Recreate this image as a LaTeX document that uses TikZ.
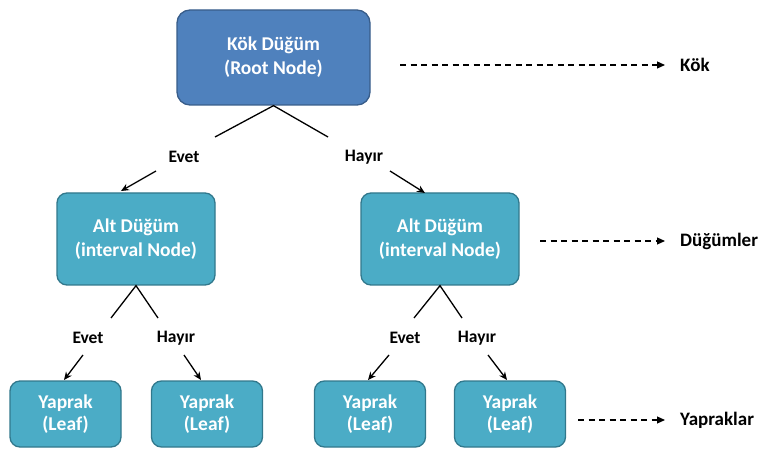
\documentclass[tikz,border=0pt]{standalone}
\usepackage{fontspec}
\setmainfont{Carlito}
\usetikzlibrary{arrows.meta}
\definecolor{rootfill}{RGB}{79,129,189}
\definecolor{rootdraw}{RGB}{56,93,138}
\definecolor{subfill}{RGB}{75,172,198}
\definecolor{subdraw}{RGB}{49,120,140}
\tikzset{
  box/.style={rounded corners=10pt, line width=1.3pt, text=white, font=\bfseries\fontsize{19.5}{24}\selectfont, align=center, inner sep=0pt},
  rootbox/.style={box, fill=rootfill, draw=rootdraw, minimum width=193pt, minimum height=95pt, rounded corners=13pt},
  subbox/.style={box, fill=subfill, draw=subdraw, minimum width=158pt, minimum height=92pt},
  leafbox/.style={box, fill=subfill, draw=subdraw, minimum width=111pt, minimum height=66pt, font=\bfseries\fontsize{19.5}{22}\selectfont},
  lbl/.style={font=\bfseries\fontsize{17.5}{20}\selectfont, text=black, inner sep=1pt},
  side/.style={font=\bfseries\fontsize{19}{22}\selectfont, text=black, inner sep=1pt, anchor=west},
  edge/.style={line width=1.3pt, black},
  arr/.style={line width=1.3pt, black, -{Stealth[length=8pt,width=7pt]}},
  darr/.style={line width=1.2pt, black, dash pattern=on 6pt off 4.5pt, -{Triangle[length=8pt,width=7pt]}, shorten >=14pt}
}
\begin{document}
\begin{tikzpicture}[x=1pt,y=-1pt]
\useasboundingbox (0,0) rectangle (758,449);
% boxes
\node[rootbox] (r) at (273.5,57.5) {Kök Düğüm\\(Root Node)};
\node[subbox] (a) at (136,239) {Alt Düğüm\\(interval Node)};
\node[subbox] (b) at (440,239) {Alt Düğüm\\(interval Node)};
\node[leafbox] (l1) at (65.5,414) {Yaprak\\(Leaf)};
\node[leafbox] (l2) at (207,414) {Yaprak\\(Leaf)};
\node[leafbox] (l3) at (370,414) {Yaprak\\(Leaf)};
\node[leafbox] (l4) at (510,414) {Yaprak\\(Leaf)};
% labels
\node[lbl] (e1) at (184,157) {Evet};
\node[lbl] (h1) at (364,157) {Hayır};
\node[lbl] (e2) at (88,338) {Evet};
\node[lbl] (h2) at (176,338) {Hayır};
\node[lbl] (e3) at (405,338) {Evet};
\node[lbl] (h3) at (477,338) {Hayır};
% coordinates
\coordinate (r1) at (215,137);
\coordinate (r2) at (328,137);
\coordinate (s1) at (156,171);
\coordinate (t1) at (121,191);
\coordinate (s2) at (390,171);
\coordinate (t2) at (425,193);
\coordinate (a1) at (111,318);
\coordinate (a2) at (158,318);
\coordinate (b1) at (414,318);
\coordinate (b2) at (462,318);
\coordinate (s3) at (83,355);
\coordinate (t3) at (64,380);
\coordinate (s4) at (184,355);
\coordinate (t4) at (201,380);
\coordinate (s5) at (389,355);
\coordinate (t5) at (368,380);
\coordinate (s6) at (488,355);
\coordinate (t6) at (507,380);
% tree edges
\draw[edge] (r1) -- (r.south) -- (r2);
\draw[edge] (a1) -- (a.south) -- (a2);
\draw[edge] (b1) -- (b.south) -- (b2);
\draw[arr] (s1) -- (t1);
\draw[arr] (s2) -- (t2);
\draw[arr] (s3) -- (t3);
\draw[arr] (s4) -- (t4);
\draw[arr] (s5) -- (t5);
\draw[arr] (s6) -- (t6);
% side legend
\node[side] (k1) at (679,65) {Kök};
\node[side] (k2) at (679,241) {Düğümler};
\node[side] (k3) at (679,420) {Yapraklar};
\coordinate (d1) at (400,65);
\coordinate (d2) at (540,241);
\coordinate (d3) at (578,420);
\draw[darr] (d1) -- (k1.west);
\draw[darr] (d2) -- (k2.west);
\draw[darr] (d3) -- (k3.west);
\end{tikzpicture}
\end{document}
